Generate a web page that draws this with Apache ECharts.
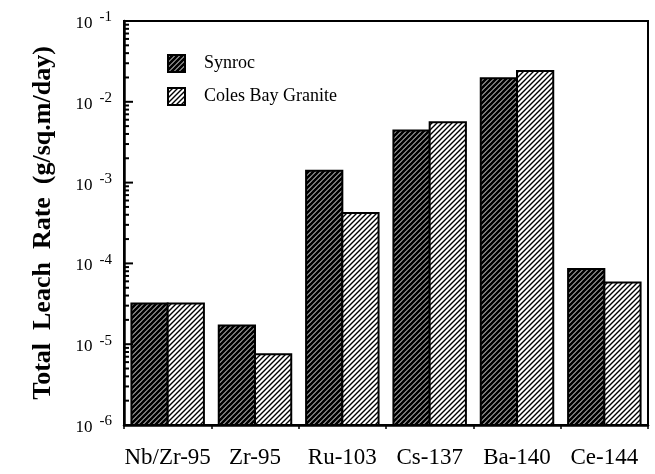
<!DOCTYPE html>
<html>
<head>
<meta charset="utf-8">
<script src="https://cdn.jsdelivr.net/npm/echarts@6/dist/echarts.min.js"></script>
<style>
  html, body { margin: 0; padding: 0; background: #fff; }
  #chart { width: 655px; height: 474px; }
</style>
</head>
<body>
<div id="chart"></div>
<script>
// data
const categories = ['Nb/Zr-95', 'Zr-95', 'Ru-103', 'Cs-137', 'Ba-140', 'Ce-144'];
const synroc = [3.2e-5, 1.7e-5, 1.4e-3, 4.4e-3, 1.95e-2, 8.5e-5];
const granite = [3.2e-5, 7.5e-6, 4.2e-4, 5.6e-3, 2.4e-2, 5.8e-5];
const seriesNames = ['Synroc', 'Coles Bay Granite'];
const decades = [1e-6, 1e-5, 1e-4, 1e-3, 1e-2, 1e-1];
const minorSteps = [2, 3, 4, 5, 6, 7, 8, 9];

// minor log ticks 2..9 inside each decade
const minorTicks = [];
decades.slice(0, -1).forEach(d => minorSteps.forEach(m => minorTicks.push(m * d)));

const serif = 'Liberation Serif';
const yMin = decades[0];
const yMax = decades[decades.length - 1];
const barFrac = 0.415; // each bar's share of the category band

// diagonal "/" hatch tile
function hatch(lineW, size) {
  const c = document.createElement('canvas');
  c.width = c.height = size;
  const g = c.getContext('2d');
  g.fillStyle = '#fff';
  g.fillRect(0, 0, size, size);
  g.strokeStyle = '#000';
  g.lineWidth = lineW;
  g.beginPath();
  g.moveTo(0, size); g.lineTo(size, 0);
  g.moveTo(-size / 2, size / 2); g.lineTo(size / 2, -size / 2);
  g.moveTo(size / 2, size * 1.5); g.lineTo(size * 1.5, size / 2);
  g.stroke();
  return c;
}
const darkFill = { image: hatch(2.9, 5), repeat: 'repeat' };
const lightFill = { image: hatch(1.4, 5), repeat: 'repeat' };

function bandWidth(api, v) {
  return api.coord([1, v])[0] - api.coord([0, v])[0];
}

// bars drawn from the axis floor (ECharts bars on a log axis start at 1)
function barItem(side, fill) {
  return function (params, api) {
    const i = api.value(0);
    const v = api.value(1);
    const top = api.coord([i, v]);
    const base = api.coord([i, yMin]);
    const w = bandWidth(api, v) * barFrac;
    return {
      type: 'rect',
      shape: { x: side < 0 ? top[0] - w : top[0], y: top[1], width: w, height: base[1] - top[1] },
      style: { fill: fill, stroke: '#000', lineWidth: 2 }
    };
  };
}

// inward tick marks on the left axis
function tickItem(len) {
  return function (params, api) {
    const v = api.value(1);
    const p = api.coord([0, v]);
    const x0 = p[0] - bandWidth(api, v) / 2;
    return {
      type: 'line',
      z2: 10,
      shape: { x1: x0, y1: p[1], x2: x0 + len, y2: p[1] },
      style: { stroke: '#000', lineWidth: 2 }
    };
  };
}

const chart = echarts.init(document.getElementById('chart'));

const option = {
  animation: false,
  backgroundColor: '#fff',
  grid: {
    left: 124, right: 7, top: 21, bottom: 49,
    show: true, borderColor: '#000', borderWidth: 2
  },
  legend: {
    data: [
      { name: seriesNames[0], icon: 'rect', itemStyle: { color: darkFill, borderColor: '#000', borderWidth: 2 } },
      { name: seriesNames[1], icon: 'rect', itemStyle: { color: lightFill, borderColor: '#000', borderWidth: 2 } }
    ],
    orient: 'vertical',
    left: 162, top: 49,
    itemWidth: 17, itemHeight: 17, itemGap: 14,
    formatter: name => '{t|' + name + '}',
    textStyle: {
      fontFamily: serif, fontSize: 18, color: '#000',
      rich: { t: { fontFamily: serif, fontSize: 18, color: '#000', padding: [0, 0, 0, 14] } }
    }
  },
  xAxis: {
    type: 'category',
    data: categories,
    axisLine: { lineStyle: { color: '#000', width: 2.5 } },
    axisTick: { show: true, length: 4, lineStyle: { color: '#000', width: 1.5 } },
    axisLabel: { interval: 0, fontFamily: serif, fontSize: 23, color: '#000', margin: 21 }
  },
  yAxis: {
    type: 'log',
    logBase: 10,
    min: yMin,
    max: yMax,
    name: 'Total  Leach  Rate  (g/sq.m/day)',
    nameLocation: 'middle',
    nameGap: 68,
    nameTextStyle: { fontFamily: serif, fontWeight: 'bold', fontSize: 26, color: '#000' },
    axisLine: { show: true, lineStyle: { color: '#000', width: 2.5 } },
    axisTick: { show: false },
    splitLine: { show: false },
    axisLabel: {
      margin: 12,
      formatter: v => '{b|10}{s|' + Math.round(Math.log10(v)) + '}',
      rich: {
        b: { fontFamily: serif, fontSize: 17, color: '#000', verticalAlign: 'bottom' },
        s: { fontFamily: serif, fontSize: 15, color: '#000', verticalAlign: 'bottom', padding: [0, 0, 7, 7] }
      }
    }
  },
  series: [
    {
      name: seriesNames[0],
      type: 'custom',
      renderItem: barItem(-1, darkFill),
      encode: { x: 0, y: 1 },
      itemStyle: { color: darkFill },
      data: synroc.map((v, i) => [i, v])
    },
    {
      name: seriesNames[1],
      type: 'custom',
      renderItem: barItem(1, lightFill),
      encode: { x: 0, y: 1 },
      itemStyle: { color: lightFill },
      data: granite.map((v, i) => [i, v])
    },
    {
      name: 'major ticks',
      type: 'custom',
      silent: true,
      z: 5,
      renderItem: tickItem(9),
      encode: { x: 0, y: 1 },
      data: decades.map(v => [0, v])
    },
    {
      name: 'minor ticks',
      type: 'custom',
      silent: true,
      z: 5,
      renderItem: tickItem(5),
      encode: { x: 0, y: 1 },
      data: minorTicks.map(v => [0, v])
    }
  ]
};

chart.setOption(option);
</script>
</body>
</html>
